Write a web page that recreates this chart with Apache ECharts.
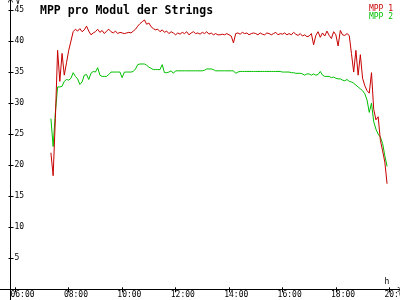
<!DOCTYPE html>
<html><head><meta charset="utf-8">
<script src="https://cdn.jsdelivr.net/npm/echarts@6/dist/echarts.min.js"></script>
<style>html,body{margin:0;padding:0;background:#fff}#c{width:400px;height:300px}</style>
</head><body><div id="c"></div>
<script>
const times = [
'07:20','07:25','07:30','07:35','07:40','07:45','07:50','07:55',
'08:00','08:05','08:10','08:15','08:20','08:25','08:30','08:35','08:40','08:45','08:50','08:55',
'09:00','09:05','09:10','09:15','09:20','09:25','09:30','09:35','09:40','09:45','09:50','09:55',
'10:00','10:05','10:10','10:15','10:20','10:25','10:30','10:35','10:40','10:45','10:50','10:55',
'11:00','11:05','11:10','11:15','11:20','11:25','11:30','11:35','11:40','11:45','11:50','11:55',
'12:00','12:05','12:10','12:15','12:20','12:25','12:30','12:35','12:40','12:45','12:50','12:55',
'13:00','13:05','13:10','13:15','13:20','13:25','13:30','13:35','13:40','13:45','13:50','13:55',
'14:00','14:05','14:10','14:15','14:20','14:25','14:30','14:35','14:40','14:45','14:50','14:55',
'15:00','15:05','15:10','15:15','15:20','15:25','15:30','15:35','15:40','15:45','15:50','15:55',
'16:00','16:05','16:10','16:15','16:20','16:25','16:30','16:35','16:40','16:45','16:50','16:55',
'17:00','17:05','17:10','17:15','17:20','17:25','17:30','17:35','17:40','17:45','17:50','17:55',
'18:00','18:05','18:10','18:15','18:20','18:25','18:30','18:35','18:40','18:45','18:50','18:55',
'19:00','19:05','19:10','19:15','19:20','19:25','19:30','19:35','19:40','19:45','19:50','19:55'
];
const mpp1 = [
22.0,18.3,27.5,38.5,33.5,38.0,34.5,36.5,
38.5,40.0,41.5,41.9,41.6,42.0,41.5,41.8,42.4,41.6,41.0,41.3,
41.5,41.9,41.4,41.7,41.2,41.6,41.9,41.5,41.3,41.6,41.2,41.4,
41.3,41.2,41.3,41.4,41.3,41.6,41.9,42.4,42.8,43.1,43.4,42.7,
42.9,42.3,42.0,41.8,41.9,41.5,41.8,41.4,41.6,41.2,41.5,41.3,
41.0,41.3,41.1,41.4,41.2,41.5,41.0,41.3,41.5,41.2,41.3,41.1,
41.4,41.2,41.5,41.1,41.3,41.0,41.2,41.0,41.0,41.1,41.0,41.2,
41.0,40.8,39.7,41.2,41.3,41.1,41.4,41.2,41.3,41.0,41.2,41.3,
41.2,41.0,41.3,41.1,41.0,41.3,41.2,41.0,41.2,41.4,41.0,41.2,
41.1,41.3,41.0,41.2,41.0,41.4,41.1,40.9,41.2,40.8,41.0,40.7,
40.8,41.2,39.4,40.9,41.5,40.6,41.3,40.8,41.6,40.9,40.4,41.5,
41.0,39.2,41.7,41.0,40.9,41.2,40.9,38.0,35.0,38.5,34.5,37.8,
34.0,32.8,32.0,31.6,34.9,29.0,27.3,27.8,24.0,22.3,20.5,17.0
];
const mpp2 = [
27.5,23.0,28.5,32.6,32.6,32.7,33.5,33.8,
33.7,34.0,34.9,34.3,33.9,33.0,33.4,34.5,34.6,33.8,34.8,35.1,
35.0,35.7,34.5,34.3,34.3,34.3,34.6,35.0,35.0,35.0,35.0,35.0,
34.1,35.0,35.0,35.0,35.0,35.1,35.5,36.2,36.3,36.3,36.3,36.1,
35.8,35.6,35.4,35.4,35.4,35.4,36.2,34.9,34.9,35.0,35.2,34.8,
35.2,35.2,35.2,35.2,35.2,35.2,35.2,35.2,35.2,35.2,35.2,35.2,
35.2,35.3,35.5,35.5,35.5,35.4,35.2,35.2,35.2,35.2,35.2,35.2,
35.2,35.2,35.2,34.8,35.0,35.1,35.1,35.1,35.1,35.1,35.1,35.1,
35.1,35.1,35.1,35.1,35.1,35.1,35.1,35.1,35.1,35.1,35.1,35.1,
35.0,35.0,35.0,35.0,34.9,34.9,34.8,34.8,34.8,34.7,34.5,34.7,
34.7,34.5,34.7,34.5,34.6,35.1,34.5,34.3,34.3,34.3,34.1,34.2,
34.0,33.9,33.9,33.7,33.6,33.8,33.5,33.4,33.2,32.9,32.6,32.3,
32.0,31.5,30.5,28.5,30.0,27.0,25.8,25.0,24.5,23.5,21.5,19.8
];
const xTicks = [6,8,10,12,14,16,18,20];
const yTicks = [5,10,15,20,25,30,35,40,45];
const seriesNames = ['MPP 1','MPP 2'];
const colors = ['#c80000','#00c000'];

function toH(t){const p=t.split(':');return +p[0]+(+p[1])/60;}
function pad2(n){return (n<10?'0':'')+n;}
const FONT = 'DejaVu Sans Mono';
const arrow = 'path://M0,9 L5,0 L10,9 L8.8,9.6 L5,2.6 L1.2,9.6 Z';
const yMin = 0, yMax = 46.61, xMin = 5.4273, xMax = 20.4007;

const chart = echarts.init(document.getElementById('c'), null, {renderer:'canvas'});
chart.setOption({
  animation:false,
  backgroundColor:'#fff',
  title:{text:'MPP pro Modul der Strings', left:35, top:0,
    textStyle:{fontFamily:FONT, fontSize:11.5, fontWeight:'bold', color:'#000'}},
  legend:{orient:'vertical', right:2, top:0, icon:'none', itemWidth:0, itemHeight:7, itemGap:0,
    selectedMode:false,
    data: seriesNames.map((n,i)=>({name:n, textStyle:{color:colors[i]}})),
    textStyle:{fontFamily:FONT, fontSize:8, lineHeight:7.5, padding:0}},
  grid:{left:0, right:0, top:0, bottom:10.7, containLabel:false, outerBoundsMode:'none'},
  graphic:[{type:'line', z:10, shape:{x1:10.5, y1:289, x2:10.5, y2:300}, style:{stroke:'#000', lineWidth:1}}],
  xAxis:[{
    type:'value', min:xMin, max:xMax, position:'bottom',
    name:'h', nameLocation:'end', nameGap:-13,
    nameTextStyle:{fontFamily:FONT, fontSize:8, color:'#000', align:'center', verticalAlign:'bottom', padding:[0,0,3,0]},
    axisLine:{show:true, onZero:false, symbol:['none', arrow], symbolSize:[7,5], lineStyle:{color:'#000', width:1}},
    axisTick:{show:true, inside:false, length:3, customValues:xTicks, lineStyle:{color:'#000'}},
    axisLabel:{show:true, customValues:xTicks, margin:2, fontFamily:FONT, fontSize:8, color:'#000',
      hideOverlap:false,
      formatter:v=>'\u00a0\u00a0\u00a0'+pad2(Math.round(v))+':00'},
    splitLine:{show:false}
  },{
    type:'value', min:xMin, max:xMax, position:'bottom',
    axisLine:{show:false, onZero:false},
    axisTick:{show:true, inside:true, length:2, customValues:xTicks, lineStyle:{color:'#000'}},
    axisLabel:{show:false}, splitLine:{show:false}
  }],
  yAxis:[{
    type:'value', min:yMin, max:yMax, position:'left', offset:-10.5,
    name:'V', nameLocation:'end', nameGap:-3,
    nameTextStyle:{fontFamily:FONT, fontSize:8, color:'#000', align:'left', verticalAlign:'middle', padding:[0,0,0,5]},
    axisLine:{show:true, onZero:false, symbol:['none', arrow], symbolSize:[7,5], lineStyle:{color:'#000', width:1}},
    axisTick:{show:true, inside:false, length:2, customValues:yTicks, lineStyle:{color:'#000'}},
    axisLabel:{show:true, inside:true, customValues:yTicks, margin:4, fontFamily:FONT, fontSize:8, color:'#000'},
    splitLine:{show:false}
  },{
    type:'value', min:yMin, max:yMax, position:'left', offset:-10.5,
    axisLine:{show:false, onZero:false},
    axisTick:{show:true, inside:true, length:3, customValues:yTicks, lineStyle:{color:'#000'}},
    axisLabel:{show:false}, splitLine:{show:false}
  }],
  series:[mpp1, mpp2].map((arr,i)=>({
    name:seriesNames[i], type:'line', xAxisIndex:0, yAxisIndex:0,
    showSymbol:false, symbol:'none', z:3-i,
    lineStyle:{color:colors[i], width:1}, itemStyle:{color:colors[i]},
    data: times.map((t,j)=>[toH(t), arr[j]])
  }))
});
</script></body></html>
